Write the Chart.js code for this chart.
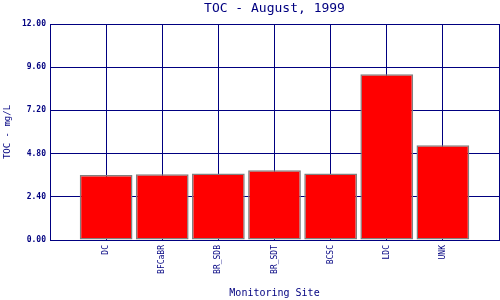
<!DOCTYPE html>
<html>
<head>
<meta charset="utf-8">
<script src="https://cdn.jsdelivr.net/npm/chart.js@4/dist/chart.umd.min.js"></script>
<style>
  html, body { margin: 0; padding: 0; background: #fff; }
  #chart { display: block; }
</style>
</head>
<body>
<canvas id="chart" width="500" height="300"></canvas>
<script>
const sites = ["DC", "BFCaBR", "BR_SDB", "BR_SDT", "BCSC", "LDC", "UNK"];
const tocValues = [3.61, 3.65, 3.70, 3.87, 3.70, 9.21, 5.26];
const yTicks = [0, 2.4, 4.8, 7.2, 9.6, 12];

const NAVY = "#000080";
const MONO = "'DejaVu Sans Mono', monospace";

// empty slots at both ends so the sites sit on the inner grid lines
const labels = ["", ...sites, ""];
const values = [null, ...tocValues, null];

new Chart(document.getElementById("chart"), {
  type: "bar",
  data: {
    labels,
    datasets: [{
      data: values,
      backgroundColor: "#ff0000",
      borderColor: "#808080",
      borderWidth: 1.5,
      borderSkipped: false,
      barPercentage: 0.94,
      categoryPercentage: 1
    }]
  },
  options: {
    responsive: false,
    animation: false,
    layout: { padding: { right: 1 } },
    plugins: {
      legend: { display: false },
      tooltip: { enabled: false },
      title: {
        display: true,
        text: "TOC - August, 1999",
        color: NAVY,
        fullSize: false,
        font: { family: MONO, size: 13, weight: "normal" },
        padding: { top: 1, bottom: 7.4 }
      }
    },
    scales: {
      x: {
        offset: false,
        grid: { color: NAVY, drawTicks: false, offset: false },
        border: { color: NAVY },
        ticks: {
          color: NAVY,
          font: { family: MONO, size: 8 },
          minRotation: 90,
          maxRotation: 90,
          padding: 5,
          autoSkip: false
        },
        title: {
          display: true,
          text: "Monitoring Site",
          color: NAVY,
          font: { family: MONO, size: 10 },
          padding: { top: 0, bottom: 1 }
        },
        afterFit: s => {
          s.height = 60;
          s.paddingLeft = 0;
          s.paddingRight = 0;
        }
      },
      y: {
        min: 0,
        max: 12,
        afterBuildTicks: s => { s.ticks = yTicks.map(v => ({ value: v })); },
        grid: { color: NAVY, drawTicks: false },
        border: { color: NAVY },
        ticks: {
          color: NAVY,
          font: { family: MONO, size: 8, weight: "bold" },
          padding: 4,
          callback: v => v.toFixed(2)
        },
        title: {
          display: true,
          text: "TOC - mg/L",
          color: NAVY,
          font: { family: MONO, size: 9 },
          padding: { top: 2, bottom: 0 }
        },
        afterFit: s => {
          s.width = 50;
          s.paddingTop = 0;
          s.paddingBottom = 0;
        }
      }
    }
  }
});
</script>
</body>
</html>
